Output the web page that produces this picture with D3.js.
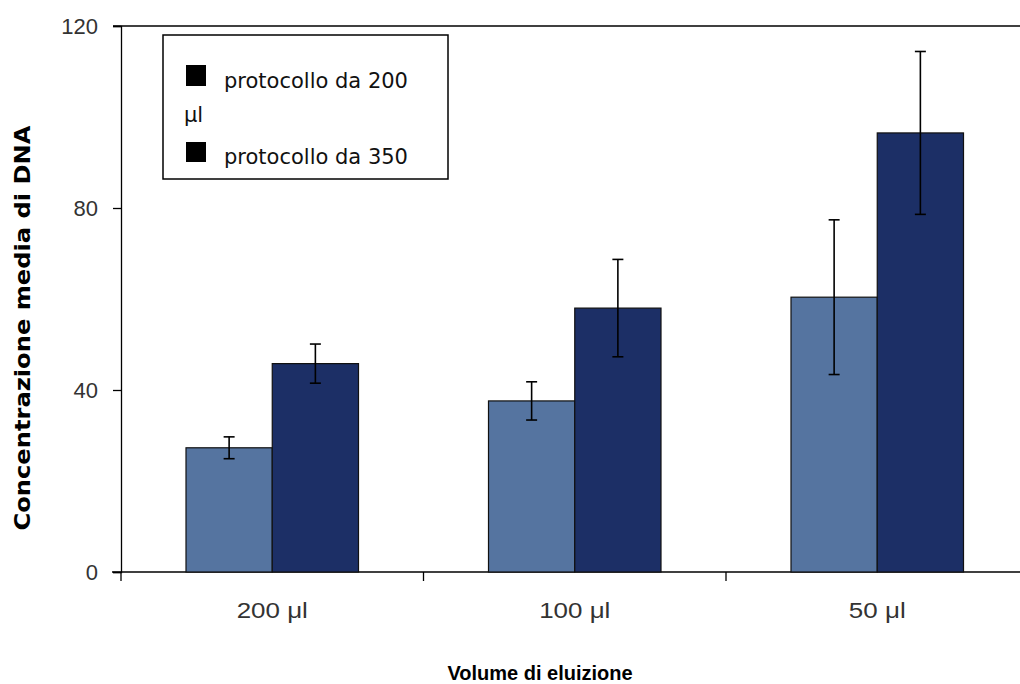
<!DOCTYPE html>
<head>
  <meta charset="utf-8">
  <script src="https://d3js.org/d3.v7.min.js"></script>
  <style>
    body { margin:0; background:#fff; }
    text { font-family: "Liberation Sans", Arial, sans-serif; }
  </style>
</head>
<body>
  <script>
    var categories = ['200 \u03bcl', '100 \u03bcl', '50 \u03bcl'];
    var series = ['protocollo da 200 \u03bcl', 'protocollo da 350'];
    var values200 = [27.3, 37.6, 60.4];
    var errors200 = [2.4, 4.2, 17.0];
    var values350 = [45.8, 58.0, 96.5];
    var errors350 = [4.3, 10.7, 17.9];
    var yTicks = [0, 40, 80, 120];
    var colors = ['#5574a0', '#1c2f66'];

    var width = 1020, height = 684;
    var svg = d3.select('body').append('svg')
      .attr('width', width)
      .attr('height', height);

    var x = d3.scaleBand()
      .domain(categories)
      .range([121, 1028.5]);
    var xs = d3.scaleBand()
      .domain([0, 1])
      .range([65, x.bandwidth() - 65]);
    var y = d3.scaleLinear()
      .domain([0, 120])
      .range([572, 26]);

    // top frame line
    svg.append('line')
      .attr('x1', 113).attr('x2', width)
      .attr('y1', y(120)).attr('y2', y(120))
      .attr('stroke', '#000').attr('stroke-width', 1.3);

    // y axis
    var yAxis = d3.axisLeft(y).tickValues(yTicks).tickSize(8).tickPadding(15);
    var gy = svg.append('g')
      .attr('transform', 'translate(121,0)')
      .call(yAxis);
    gy.select('.domain').attr('stroke', '#000').attr('stroke-width', 1.3);
    gy.selectAll('.tick line').attr('stroke', '#000').attr('stroke-width', 1.3);
    gy.selectAll('.tick text')
      .attr('font-size', 22).attr('fill', '#333')
      .style('font-family', '"Liberation Sans", sans-serif');

    // x axis line and ticks at band edges
    svg.append('line')
      .attr('x1', 112).attr('x2', width)
      .attr('y1', y(0)).attr('y2', y(0))
      .attr('stroke', '#000').attr('stroke-width', 1.3);
    var edges = categories.map(function(c) { return x(c); });
    svg.selectAll('.xtick')
      .data(edges)
      .enter().append('line')
      .attr('class', 'xtick')
      .attr('x1', function(d) { return d; })
      .attr('x2', function(d) { return d; })
      .attr('y1', y(0)).attr('y2', y(0) + 9)
      .attr('stroke', '#000').attr('stroke-width', 1.3);

    var xAxis = d3.axisBottom(x).tickSize(0).tickPadding(30);
    var gx = svg.append('g')
      .attr('transform', 'translate(0,' + y(0) + ')')
      .call(xAxis);
    gx.select('.domain').remove();
    gx.selectAll('.tick text')
      .attr('font-size', 22).attr('fill', '#333')
      .style('font-family', '"Liberation Sans", sans-serif')
      .each(function() {
        var t = d3.select(this);
        t.attr('textLength', this.getComputedTextLength() * 1.18)
         .attr('lengthAdjust', 'spacingAndGlyphs');
      });

    // bars
    var data = [];
    categories.forEach(function(c, i) {
      data.push({ c: c, s: 0, v: values200[i], e: errors200[i] });
      data.push({ c: c, s: 1, v: values350[i], e: errors350[i] });
    });

    var bars = svg.append('g');
    bars.selectAll('rect')
      .data(data)
      .enter().append('rect')
      .attr('x', function(d) { return x(d.c) + xs(d.s); })
      .attr('width', xs.bandwidth())
      .attr('y', function(d) { return y(d.v); })
      .attr('height', function(d) { return y(0) - y(d.v); })
      .attr('fill', function(d) { return colors[d.s]; })
      .attr('stroke', '#111')
      .attr('stroke-width', 1.2);

    // error bars
    var err = svg.append('g').attr('stroke', '#000').attr('stroke-width', 1.6);
    data.forEach(function(d) {
      var cx = x(d.c) + xs(d.s) + xs.bandwidth() / 2;
      err.append('line')
        .attr('x1', cx).attr('x2', cx)
        .attr('y1', y(d.v + d.e)).attr('y2', y(d.v - d.e));
      [d.v + d.e, d.v - d.e].forEach(function(v) {
        err.append('line')
          .attr('x1', cx - 5.5).attr('x2', cx + 5.5)
          .attr('y1', y(v)).attr('y2', y(v));
      });
    });

    // legend
    var lg = svg.append('g');
    lg.append('rect')
      .attr('x', 163).attr('y', 35)
      .attr('width', 285).attr('height', 144)
      .attr('fill', '#fff').attr('stroke', '#000').attr('stroke-width', 1.5);
    lg.append('rect').attr('x', 186).attr('y', 65).attr('width', 20).attr('height', 21).attr('fill', '#000');
    lg.append('rect').attr('x', 186).attr('y', 142).attr('width', 20).attr('height', 20).attr('fill', '#000');
    lg.append('text').attr('x', 224).attr('y', 88).attr('font-size', 21).attr('fill', '#111')
      .style('font-family', '"DejaVu Sans", sans-serif')
      .text('protocollo da 200');
    lg.append('text').attr('x', 184).attr('y', 122).attr('font-size', 21).attr('fill', '#111')
      .style('font-family', '"DejaVu Sans", sans-serif')
      .text('\u03bcl');
    lg.append('text').attr('x', 224).attr('y', 164).attr('font-size', 21).attr('fill', '#111')
      .style('font-family', '"DejaVu Sans", sans-serif')
      .text(series[1]);

    // axis titles
    svg.append('text')
      .attr('x', 540).attr('y', 680)
      .attr('text-anchor', 'middle')
      .attr('font-size', 20).attr('font-weight', 'bold').attr('fill', '#000')
      .style('font-family', '"Liberation Sans", sans-serif')
      .text('Volume di eluizione');

    svg.append('text')
      .attr('transform', 'translate(30,328) rotate(-90)')
      .attr('text-anchor', 'middle')
      .attr('font-size', 21).attr('font-weight', 'bold').attr('fill', '#000')
      .style('font-family', '"DejaVu Sans", sans-serif')
      .attr('textLength', 405).attr('lengthAdjust', 'spacingAndGlyphs')
      .text('Concentrazione media di DNA');
  </script>
</body>
